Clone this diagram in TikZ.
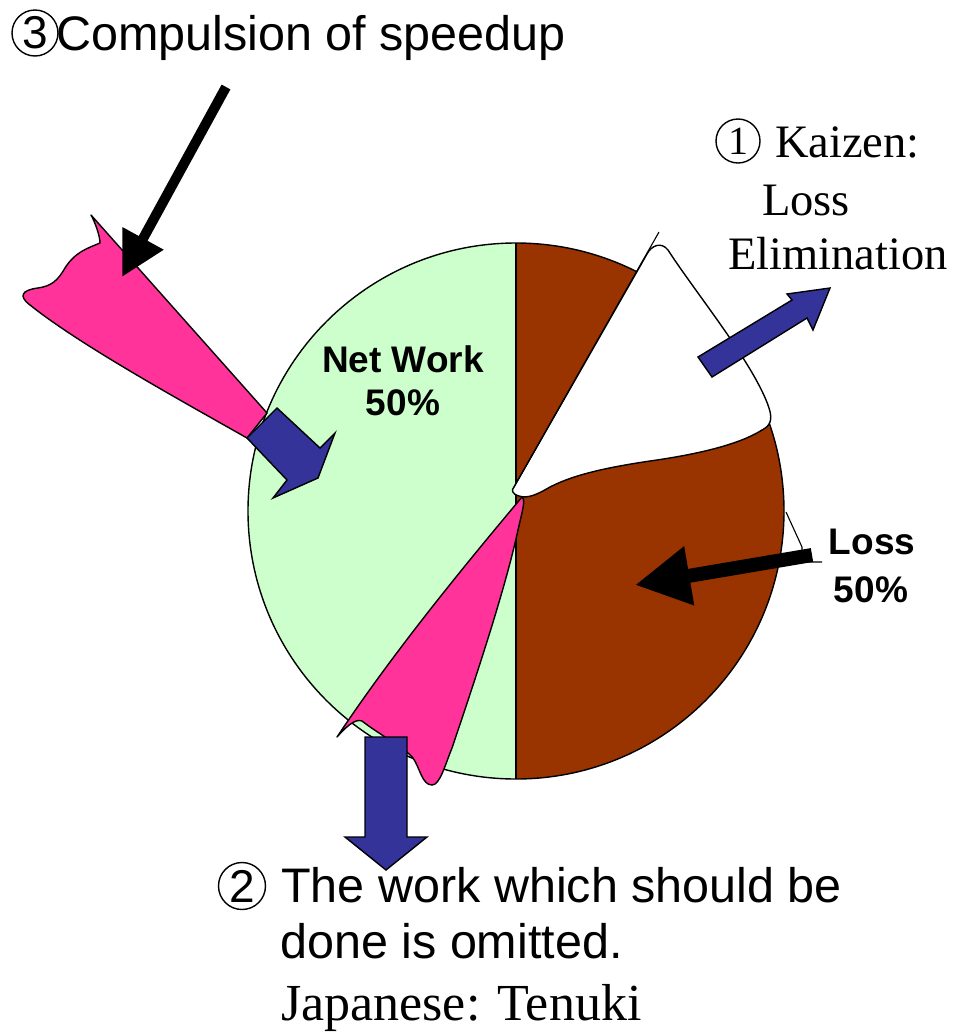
\documentclass[tikz,border=0pt]{standalone}
\usepackage{fontspec}
\setmainfont{Liberation Serif}
\setsansfont{Liberation Sans}
\usetikzlibrary{arrows.meta}

\definecolor{netgreen}{HTML}{CCFFCC}
\definecolor{lossbrown}{HTML}{993300}
\definecolor{tenukipink}{HTML}{FF3399}
\definecolor{flowblue}{HTML}{333399}

\tikzset{
  outline/.style={draw=black, line width=1.4pt, line join=round},
  pinkshape/.style={outline, fill=tenukipink},
  bluearrow/.style={outline, fill=flowblue, line join=miter},
  blackarrow/.style={line width=#1, draw=black, line cap=butt},
  leader/.style={draw=black, line width=1.1pt},
  sanslabel/.style={inner sep=0pt, font=\sffamily\fontsize{48.5}{56}\selectfont},
  seriflabel/.style={inner sep=0pt, font=\rmfamily\fontsize{46.5}{56}\selectfont},
  boldlabel/.style={inner sep=0pt, font=\sffamily\bfseries\fontsize{37}{44}\selectfont},
  circnum/.style={circle, draw=black, line width=1.4pt, inner sep=0pt, minimum size=#1},
}

\begin{document}
\begin{tikzpicture}[x=1pt, y=-1pt]
\useasboundingbox (0,0) rectangle (956,1034);

% ---- pie chart ----
\coordinate (c) at (516,511);
\coordinate (top) at (516,243);
\coordinate (bot) at (516,779);
\fill[netgreen] (top) arc[start angle=-90, end angle=-270, radius=268] -- cycle;
\fill[lossbrown] (top) arc[start angle=-90, end angle=90, radius=268] -- cycle;
\draw[outline] (c) circle[radius=268];
\draw[outline] (top) -- (bot);

% removed loss slice (white)
\coordinate (blobroot) at (514,487);
\coordinate (kaizenlead) at (659,232);
\draw[outline, fill=white]
  (blobroot) -- (647,254)
  .. controls (651,246) and (661,241) .. (668,250)
  .. controls (695,292) and (755,365) .. (769,408)
  .. controls (773,420) and (770,426) .. (762,430)
  .. controls (740,444) and (700,454) .. (650,461)
  .. controls (610,467) and (575,474) .. (550,487)
  .. controls (538,494) and (528,499) .. (519,496)
  .. controls (512,494) and (511,490) .. (blobroot) -- cycle;
\draw[leader] (blobroot) -- (kaizenlead);

% leader of the loss label
\coordinate (lossleadA) at (786,512);
\coordinate (lossleadB) at (802,547);
\coordinate (lossleadC) at (802,562);
\coordinate (lossleadD) at (822,562);
\draw[leader] (lossleadA) -- (lossleadB) -- (lossleadC) -- (lossleadD);

% ---- omitted work (bottom wedge) ----
\draw[pinkshape]
  (522,497) .. controls (465,565) and (395,650) .. (337,737)
  .. controls (345,728) and (355,718) .. (362,721)
  .. controls (380,735) and (405,748) .. (413,758)
  .. controls (420,768) and (422,785) .. (432,785)
  .. controls (440,785) and (445,765) .. (452,748)
  .. controls (475,680) and (505,590) .. (518,530)
  .. controls (522,512) and (526,500) .. (522,497) -- cycle;

% ---- forced speedup (upper left wedge) ----
\draw[pinkshape]
  (267,413) -- (91,215)
  .. controls (95,222) and (100,236) .. (100,243)
  .. controls (88,248) and (75,252) .. (65,268)
  .. controls (58,280) and (52,286) .. (38,288)
  .. controls (22,290) and (18,296) .. (30,305)
  .. controls (80,345) and (180,400) .. (247,438) -- cycle;

% ---- blue block arrows ----
\draw[bluearrow] (365,737) -- (407,737) -- (407,837) -- (427,837)
  -- (386,870) -- (345,837) -- (365,837) -- cycle;
\draw[bluearrow] (277,408) -- (320,448) -- (335,433) -- (318,478)
  -- (273,498) -- (287,480) -- (247,438) -- cycle;
\draw[bluearrow] (698,357) -- (792,300) -- (787,294) -- (830,288)
  -- (813,330) -- (807,318) -- (712,377) -- cycle;

% ---- black pointers ----
\coordinate (spdtail) at (226,87);
\coordinate (spdhead) at (122,277);
\draw[blackarrow=10pt, -{Triangle[length=44pt, width=44pt]}] (spdtail) -- (spdhead);
\coordinate (losstail) at (812,555);
\coordinate (losshead) at (635,585);
\draw[blackarrow=14pt, -{Triangle[length=55pt, width=56pt]}] (losstail) -- (losshead);

% ---- labels ----
\node[boldlabel, anchor=base] (network) at (403,372) {Net Work};
\node[boldlabel, anchor=base] (netpct) at (403,415) {50\%};
\node[boldlabel, anchor=base] (loss) at (872,554) {Loss};
\node[boldlabel, anchor=base] (losspct) at (871,602) {50\%};

\node[circnum=46pt, font=\sffamily\fontsize{46}{46}\selectfont] (num3) at (35,33) {3};
\node[sanslabel, anchor=base west] (speedup) at (56,50) {Compulsion of speedup};

\node[circnum=44pt, font=\rmfamily\fontsize{40}{40}\selectfont] (num1) at (738,141) {1};
\node[seriflabel, anchor=base west] (kaizen) at (775,157) {Kaizen:};
\node[seriflabel, anchor=base west] (kloss) at (762,215) {Loss};
\node[seriflabel, anchor=base west] (kelim) at (728,269) {Elimination};

\node[circnum=47pt, font=\sffamily\fontsize{46}{46}\selectfont] (num2) at (242,886) {2};
\node[sanslabel, anchor=base west] (tenukiA) at (281,902) {The work which should be};
\node[sanslabel, anchor=base west] (tenukiB) at (280,958) {done is omitted.};
\node[seriflabel, font=\rmfamily\fontsize{52}{60}\selectfont, anchor=base west] (tenukiC) at (281,1020) {Japanese: Tenuki};
\end{tikzpicture}
\end{document}
